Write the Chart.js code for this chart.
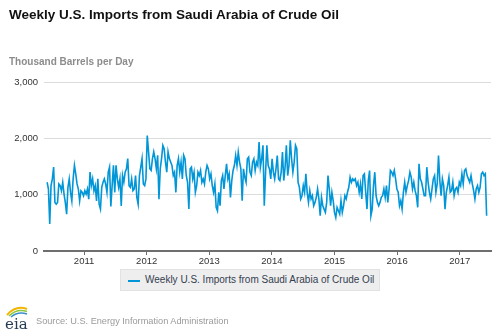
<!DOCTYPE html>
<html>
<head>
<meta charset="utf-8">
<script src="https://cdn.jsdelivr.net/npm/chart.js@4/dist/chart.umd.min.js"></script>
<style>
  body { margin: 0; background: #fff; font-family: "Liberation Sans", Arial, sans-serif; }
  #wrap { position: relative; width: 500px; height: 333px; overflow: hidden; }
  #chart { position: absolute; left: 0; top: 0; }
  .title { position: absolute; left: 9px; top: 7px; font-size: 13.5px; font-weight: bold; color: #111; white-space: nowrap; }
  .units { position: absolute; left: 9px; top: 56px; font-size: 10px; font-weight: bold; color: #8c8c8c; white-space: nowrap; }
  .legend { position: absolute; left: 120px; top: 269px; width: 258px; height: 20px; background: #eeeeee; border: 1px solid #e2e2e2; }
  .legend .swatch { position: absolute; left: 7px; top: 10px; width: 12px; height: 2px; background: #0096d7; }
  .legend .label { position: absolute; left: 24px; top: 4px; font-size: 10px; color: #34404f; white-space: nowrap; }
  .source { position: absolute; left: 36px; top: 316px; font-size: 9.2px; color: #9a9a9a; white-space: nowrap; }
  .logo { position: absolute; left: 3px; top: 303px; }
</style>
</head>
<body>
<div id="wrap">
  <canvas id="chart" width="500" height="333"></canvas>
  <div class="title">Weekly U.S. Imports from Saudi Arabia of Crude Oil</div>
  <div class="units">Thousand Barrels per Day</div>
  <div class="legend"><div class="swatch"></div><div class="label">Weekly U.S. Imports from Saudi Arabia of Crude Oil</div></div>
  <svg class="logo" width="30" height="28" viewBox="0 0 30 28">
    <path d="M4 12 Q13 2 24 6" stroke="#f2b705" stroke-width="2" fill="none"/>
    <path d="M6 13 Q14 5 24 8.5" stroke="#8cc63f" stroke-width="1.6" fill="none"/>
    <path d="M8 14 Q15 8 24 11" stroke="#3a8fc8" stroke-width="1.4" fill="none"/>
    <text x="2" y="26" font-family="DejaVu Serif, serif" font-size="15" fill="#243b53">eia</text>
  </svg>
  <div class="source">Source: U.S. Energy Information Administration</div>
</div>
<script>
  // weekly imports, thousand barrels per day (mid-2010 .. mid-2017)
  const importsKbd = [
    1220,1100,480,1160,1280,1490,860,830,860,1190,1160,1070,1220,1010,860,655,1130,1280,1040,890,
    1280,1520,1370,1190,1100,890,1070,1040,980,1070,1010,1100,920,1400,1160,1280,1070,1160,890,1280,
    830,745,1130,1220,1280,1190,1040,1400,1490,790,1160,1520,1040,
    1520,1280,1130,1280,800,1340,1220,1400,1460,1640,1160,1130,1280,1070,1100,1340,950,830,1340,1490,
    1640,1190,1160,1280,2050,1760,1460,1430,1640,1760,1640,1460,1700,920,1460,1640,1875,1815,1580,1400,
    1760,1640,1580,1520,1340,1400,1040,1520,1640,1400,1580,1280,1700,1640,1340,1220,745,
    1458,1488,1280,1399,1042,1161,1399,1339,1429,1220,1280,1190,1399,1518,1458,1280,1369,1161,1042,1190,
    774,714,1042,804,1250,1339,1101,1339,1548,1280,1369,952,1250,1429,1518,1696,1518,1756,1577,1458,
    893,1458,1310,1220,1637,1667,1399,1339,1577,1637,1429,1577,1518,1935,1488,1637,1875,804,1399,
    1875,1518,1458,1280,1637,1399,1280,1458,1696,1280,1250,1399,1756,1250,1488,1875,1339,1518,1964,1637,
    1399,1577,1875,1815,1220,1131,923,982,1161,1042,1369,1042,863,1071,923,982,804,863,952,1101,
    923,625,952,804,744,685,863,1339,1101,804,1042,893,685,595,774,714,655,
    893,685,804,982,923,1042,1131,1310,1220,1280,1250,1280,1161,1220,1042,1190,923,1339,1369,1042,
    744,1250,1429,625,744,1161,1399,982,863,804,863,952,982,1101,952,1161,863,1101,1429,1399,
    1339,1429,1280,1101,1042,804,893,744,1042,1220,1042,1161,1250,1399,1310,1101,1220,
    1071,982,774,1548,1280,1220,1101,982,982,1488,1220,1042,923,1101,1280,1339,1042,1190,1696,1250,
    982,1280,1161,744,1042,1161,1310,1042,1071,1220,982,1101,1131,1042,1220,1161,1369,1190,1429,1458,
    1339,1280,1220,1339,1190,1071,923,1101,1161,1042,1131,1369,1399,1339,1369,625
  ];
  const firstWeek = 2010.41;   // decimal year of first point
  const lastWeek = 2017.43;    // decimal year of last point
  const xRange = [2010.36, 2017.5];
  const yTicks = [0, 1000, 2000, 3000];

  const step = (lastWeek - firstWeek) / (importsKbd.length - 1);
  const points = importsKbd.map((v, i) => ({ x: firstWeek + i * step, y: v }));

  new Chart(document.getElementById("chart"), {
    type: "line",
    data: {
      datasets: [{
        label: "Weekly U.S. Imports from Saudi Arabia of Crude Oil",
        data: points,
        borderColor: "#0096d7",
        borderWidth: 1.6,
        pointRadius: 0,
        tension: 0,
        fill: false
      }]
    },
    options: {
      responsive: false,
      animation: false,
      layout: { padding: { top: 82, left: 0, right: 9, bottom: 62 } },
      plugins: { legend: { display: false }, tooltip: { enabled: false } },
      scales: {
        x: {
          type: "linear",
          min: xRange[0],
          max: xRange[1],
          afterFit: s => { s.height = 20; },
          border: { color: "#6e6e6e", width: 2 },
          grid: { display: true, drawOnChartArea: false, drawTicks: true, tickLength: 4, color: "#6e6e6e" },
          ticks: {
            stepSize: 1,
            includeBounds: false,
            padding: 1,
            color: "#333",
            font: { family: "Liberation Sans", size: 9.5 },
            maxRotation: 0,
            callback: v => String(v)
          }
        },
        y: {
          min: yTicks[0],
          max: yTicks[yTicks.length - 1],
          afterFit: s => { s.width = 44; },
          border: { display: false },
          grid: { color: "#dcdcdc", drawTicks: false },
          ticks: {
            stepSize: 1000,
            padding: 6,
            color: "#333",
            font: { family: "Liberation Sans", size: 9.5 },
            callback: v => v.toLocaleString("en-US")
          }
        }
      }
    }
  });
</script>
</body>
</html>
